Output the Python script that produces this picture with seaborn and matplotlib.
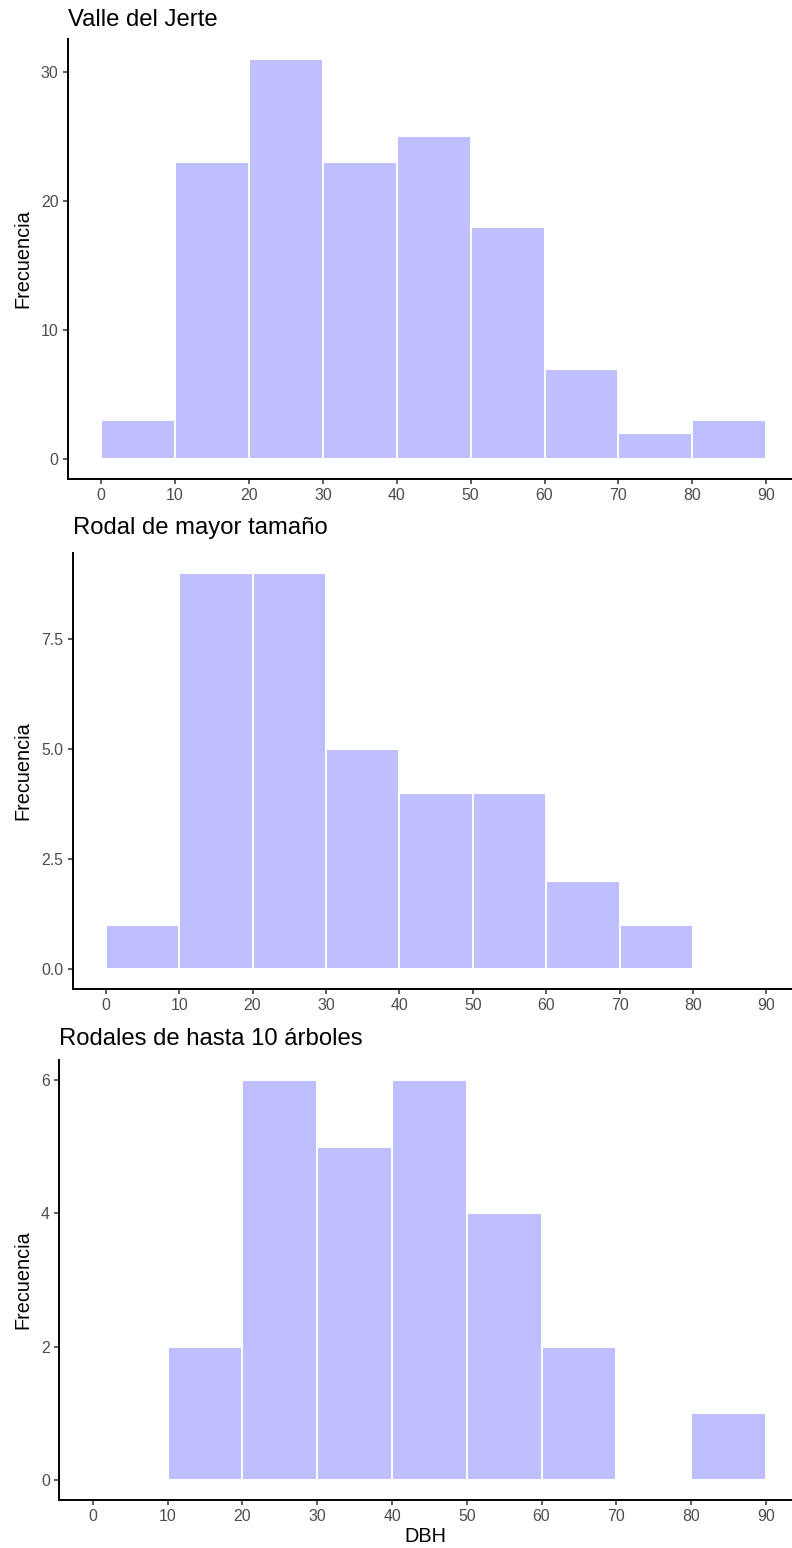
import numpy as np
import pandas as pd
import matplotlib
matplotlib.use("Agg")
import matplotlib.pyplot as plt
import seaborn as sns

# DBH class edges (cm) and tree counts per class for each stand group
bin_edges = [0, 10, 20, 30, 40, 50, 60, 70, 80, 90]
bin_mids = [5, 15, 25, 35, 45, 55, 65, 75, 85]

valle_counts = [3, 23, 31, 23, 25, 18, 7, 2, 3]
mayor_counts = [1, 9, 9, 5, 4, 4, 2, 1, 0]
hasta10_counts = [0, 2, 6, 5, 6, 4, 2, 0, 1]

titles = ["Valle del Jerte", "Rodal de mayor tamaño", "Rodales de hasta 10 árboles"]
x_ticks = [0, 10, 20, 30, 40, 50, 60, 70, 80, 90]
y_ticks = [[0, 10, 20, 30], [0.0, 2.5, 5.0, 7.5], [0, 2, 4, 6]]
y_ticklabels = [["0", "10", "20", "30"], ["0.0", "2.5", "5.0", "7.5"], ["0", "2", "4", "6"]]

sns.set_theme(style="ticks")
plt.rcParams["font.family"] = ["Liberation Sans", "DejaVu Sans"]

W, H = 792, 1548
fig = plt.figure(figsize=(W / 100, H / 100), dpi=100)

# panel boxes in pixels: (left, top, bottom)
boxes = [(68, 39, 479), (72.7, 553, 989), (59.3, 1060, 1500)]
title_y = [20, 528, 1039]

fill = (191 / 255, 191 / 255, 1.0)

for i, counts in enumerate([valle_counts, mayor_counts, hasta10_counts]):
    left, top, bottom = boxes[i]
    ax = fig.add_axes([left / W, (H - bottom) / H, (W - left) / W, (bottom - top) / H])
    df = pd.DataFrame({"DBH": bin_mids, "n": counts})
    sns.histplot(data=df, x="DBH", weights="n", bins=bin_edges, ax=ax,
                 color=fill, alpha=1.0, edgecolor="white", linewidth=1.4)
    ymax = max(counts)
    ax.set_xlim(-4.5, 93.5)
    ax.set_ylim(-0.05 * ymax, 1.05 * ymax)
    ax.set_xticks(x_ticks)
    ax.set_xticklabels([str(t) for t in x_ticks])
    ax.set_yticks(y_ticks[i])
    ax.set_yticklabels(y_ticklabels[i])
    ax.tick_params(axis="both", labelsize=11.4, labelcolor="#4D4D4D", color="#333333",
                   length=3.6, width=1.1, pad=3.2)
    for s in ["top", "right"]:
        ax.spines[s].set_visible(False)
    for s in ["left", "bottom"]:
        ax.spines[s].set_linewidth(1.4)
        ax.spines[s].set_color("black")
    ax.set_ylabel("Frecuencia", fontsize=14.3, color="black", labelpad=6)
    ax.set_xlabel("DBH" if i == 2 else "", fontsize=14.3, color="black", labelpad=2)
    ax.set_facecolor("white")
    fig.text(left / W, 1 - title_y[i] / H, titles[i], fontsize=17.2, color="black",
             ha="left", va="center")

fig.savefig("out.png", dpi=100, facecolor="white")
